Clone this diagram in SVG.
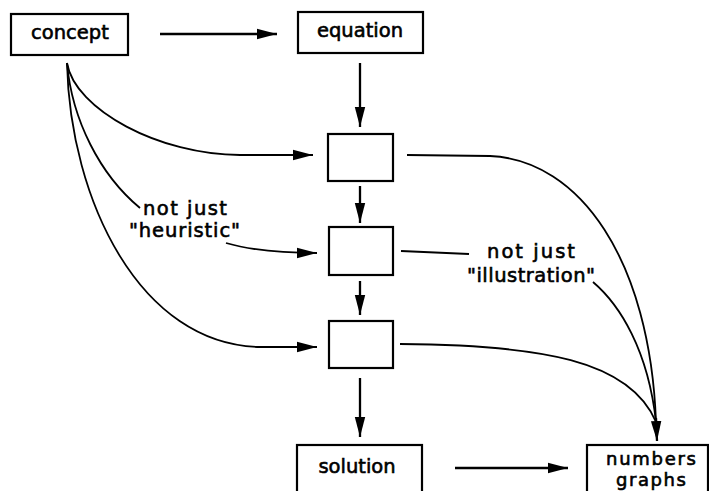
<svg xmlns="http://www.w3.org/2000/svg" width="709" height="491" viewBox="0 0 709 491">
<style>
.box{fill:#fff;stroke:#000;stroke-width:2.2}
.t{font-family:"DejaVu Sans",sans-serif;font-size:19.5px;fill:#000;stroke:#000;stroke-width:0.6}
.s{font-size:18px}
.c{fill:none;stroke:#000;stroke-width:1.8}
.a{fill:none;stroke:#000;stroke-width:2.3}
</style>
<defs>
<marker id="ah" markerUnits="userSpaceOnUse" markerWidth="20" markerHeight="12" refX="20" refY="6" orient="auto">
<path d="M0,0.8 L20,6 L0,11.2 Z" fill="#000"/>
</marker>
</defs>
<rect width="709" height="491" fill="#fff"/>
<g id="connectors">
<line class="a" x1="160" y1="34" x2="277" y2="34" marker-end="url(#ah)"/>
<line class="a" x1="360" y1="63" x2="360" y2="127" marker-end="url(#ah)"/>
<line class="a" x1="360" y1="186" x2="360" y2="223" marker-end="url(#ah)"/>
<line class="a" x1="360" y1="281" x2="360" y2="315" marker-end="url(#ah)"/>
<line class="a" x1="360" y1="378" x2="360" y2="437" marker-end="url(#ah)"/>
<line class="a" x1="455" y1="468" x2="568" y2="468" marker-end="url(#ah)"/>
<path class="c" d="M67,63 C75,110 160,155 240,155 L313,155" marker-end="url(#ah)"/>
<path class="c" d="M67,63 C72,120 100,175 140,208"/>
<path class="c" d="M226,243 C250,250 280,253 317,253" marker-end="url(#ah)"/>
<path class="c" d="M67,63 C70,200 140,345 260,347 L317,347" marker-end="url(#ah)"/>
<path class="c" d="M407,155 L490,156 C580,160 650,260 656,422"/>
<path class="c" d="M401,251 L469,254"/>
<path class="c" d="M593,282 C620,305 648,350 656,422"/>
<path class="c" d="M400,344 C540,345 630,360 656,422"/>
<line class="a" x1="656" y1="418" x2="657" y2="441" marker-end="url(#ah)"/>
</g>
<g id="concept">
<rect class="box" x="11" y="14" width="117" height="41"/>
<text class="t" x="70" y="39" text-anchor="middle">concept</text>
</g>
<g id="equation">
<rect class="box" x="298" y="12" width="125" height="41"/>
<text class="t" x="360" y="37" text-anchor="middle">equation</text>
</g>
<g id="step1">
<rect class="box" x="328" y="134" width="65" height="47"/>
</g>
<g id="step2">
<rect class="box" x="329" y="227" width="64" height="48"/>
</g>
<g id="step3">
<rect class="box" x="329" y="321" width="64" height="47"/>
</g>
<g id="solution">
<rect class="box" x="297" y="445" width="125" height="60"/>
<text class="t" x="357" y="473" text-anchor="middle">solution</text>
</g>
<g id="numbers">
<rect class="box" x="587" y="445" width="121" height="60"/>
<text class="t s" x="651" y="465" text-anchor="middle" textLength="90" lengthAdjust="spacing">numbers</text>
<text class="t s" x="651" y="486" text-anchor="middle" textLength="70" lengthAdjust="spacing">graphs</text>
</g>
<g id="label-heuristic">
<text class="t" x="143" y="215" textLength="84" lengthAdjust="spacing">not  just</text>
<text class="t" x="129" y="237" textLength="111" lengthAdjust="spacing">"heuristic"</text>
</g>
<g id="label-illustration">
<text class="t" x="487" y="258" textLength="88" lengthAdjust="spacing">not  just</text>
<text class="t" x="467" y="282" textLength="128" lengthAdjust="spacing">"illustration"</text>
</g>
</svg>
